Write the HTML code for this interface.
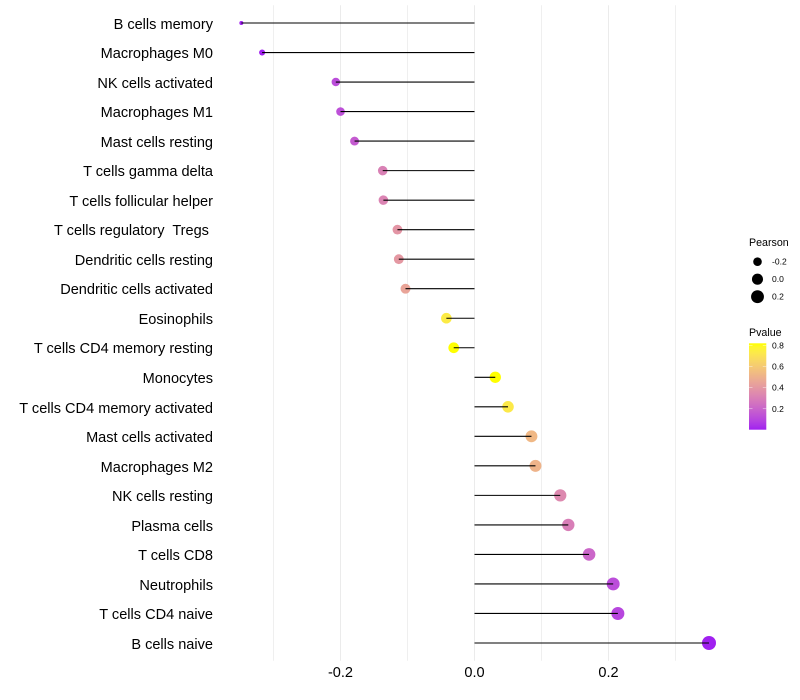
<!DOCTYPE html>
<html>
<head>
<meta charset="utf-8">
<style>
html,body{margin:0;padding:0;background:#fff}
svg{display:block}
text{font-family:"Liberation Sans",sans-serif;white-space:pre}
</style>
</head>
<body>
<svg id="chart" width="800" height="700" viewBox="0 0 800 700" xmlns="http://www.w3.org/2000/svg">
<defs><linearGradient id="pv-grad" x1="0" y1="1" x2="0" y2="0"></linearGradient></defs>
<rect x="0" y="0" width="800" height="700" fill="#ffffff"/>
<g id="grid"></g>
<g id="dots"></g>
<g id="stems-top"></g>
<g id="ylabels"></g>
<g id="xlabels"></g>
<g id="legend-size"></g>
<g id="legend-color"></g>
</svg>
<script>
const categories = ["B cells memory","Macrophages M0","NK cells activated","Macrophages M1","Mast cells resting","T cells gamma delta","T cells follicular helper","T cells regulatory  Tregs ","Dendritic cells resting","Dendritic cells activated","Eosinophils","T cells CD4 memory resting","Monocytes","T cells CD4 memory activated","Mast cells activated","Macrophages M2","NK cells resting","Plasma cells","T cells CD8","Neutrophils","T cells CD4 naive","B cells naive"];
const pearson = [-0.348,-0.317,-0.207,-0.200,-0.179,-0.137,-0.136,-0.115,-0.113,-0.103,-0.042,-0.031,0.031,0.050,0.085,0.091,0.128,0.140,0.171,0.207,0.214,0.350];
const pvalue = [0.003,0.006,0.12,0.13,0.17,0.31,0.32,0.39,0.40,0.45,0.74,0.82,0.82,0.73,0.53,0.51,0.34,0.30,0.21,0.12,0.10,0.002];
const majorTicks = [-0.2,0.0,0.2];
const minorTicks = [-0.3,-0.1,0.1,0.3];
const sizeLegendValues = [-0.2,0.0,0.2];
const colorLegendValues = [0.2,0.4,0.6,0.8];

const NS = "http://www.w3.org/2000/svg";
function xScale(v){ return 474.5 + v * 670; }
function yScale(i){ return 23 + i * (620 / (categories.length - 1)); }
const pMin = Math.min(...pvalue), pMax = Math.max(...pvalue);
const rMin = Math.min(...pearson), rMax = Math.max(...pearson);
function radius(v){
  const t = Math.max(0, Math.min(1, (v - rMin) / (rMax - rMin)));
  return 2 + 5 * Math.sqrt(t);
}
function toLab(c){
  const f = x => { x /= 255; return x > 0.04045 ? Math.pow((x + 0.055) / 1.055, 2.4) : x / 12.92; };
  const r = f(c[0]), g = f(c[1]), b = f(c[2]);
  const X = (0.4124*r + 0.3576*g + 0.1805*b) / 0.95047;
  const Y = 0.2126*r + 0.7152*g + 0.0722*b;
  const Z = (0.0193*r + 0.1192*g + 0.9505*b) / 1.08883;
  const h = t => t > 0.008856 ? Math.cbrt(t) : 7.787*t + 16/116;
  return [116*h(Y) - 16, 500*(h(X) - h(Y)), 200*(h(Y) - h(Z))];
}
function fromLab(l){
  const fy = (l[0] + 16) / 116, fx = l[1] / 500 + fy, fz = fy - l[2] / 200;
  const h = t => t*t*t > 0.008856 ? t*t*t : (t - 16/116) / 7.787;
  const X = h(fx)*0.95047, Y = h(fy), Z = h(fz)*1.08883;
  const g = x => { x = Math.max(0, Math.min(1, x)); return Math.round(255*(x > 0.0031308 ? 1.055*Math.pow(x, 1/2.4) - 0.055 : 12.92*x)); };
  return "rgb(" + g(3.2406*X - 1.5372*Y - 0.4986*Z) + "," + g(-0.9689*X + 1.8758*Y + 0.0415*Z) + "," + g(0.0557*X - 0.2040*Y + 1.0570*Z) + ")";
}
const labLow = toLab([160,32,240]), labHigh = toLab([255,255,0]);
function colorOf(t){
  return fromLab([0,1,2].map(k => labLow[k] + (labHigh[k] - labLow[k]) * t));
}
function colorScale(p){ return colorOf((p - pMin) / (pMax - pMin)); }
function mk(tag, attrs, parent, txt){
  const e = document.createElementNS(NS, tag);
  for (const k in attrs) e.setAttribute(k, attrs[k]);
  if (txt !== undefined) e.textContent = txt;
  parent.appendChild(e);
  return e;
}
const slug = s => s.trim().toLowerCase().replace(/[^a-z0-9]+/g, "-");
const panelTop = 5.3, panelBottom = 660.7;

const gridG = document.getElementById("grid");
minorTicks.forEach(v => {
  const l = mk("line", {x1:xScale(v), x2:xScale(v), y1:panelTop, y2:panelBottom, stroke:"#ebebeb", "stroke-width":0.8}, gridG);
  
  
});
majorTicks.forEach(v => {
  const l = mk("line", {x1:xScale(v), x2:xScale(v), y1:panelTop, y2:panelBottom, stroke:"#ebebeb", "stroke-width":1}, gridG);
  
  
});

const dotsG = document.getElementById("dots");
const topG = document.getElementById("stems-top");
const ylabG = document.getElementById("ylabels");
categories.forEach((c, i) => {
  const y = yScale(i);
  const d = mk("circle", {cx:xScale(pearson[i]), cy:y, r:radius(pearson[i]), fill:colorScale(pvalue[i])}, dotsG);
  
  
  const s = mk("line", {x1:xScale(0), x2:xScale(pearson[i]), y1:y, y2:y, stroke:"#000000", "stroke-width":1.1}, topG);
  
  
  const t = mk("text", {x:213, y:Math.floor(y + 6.2), "text-anchor":"end", "font-size":"14.55", fill:"#000000"}, ylabG, c);
  
  
});

const xlabG = document.getElementById("xlabels");
majorTicks.forEach(v => {
  const t = mk("text", {x:xScale(v), y:677, "text-anchor":"middle", "font-size":"14.55", fill:"#000000"}, xlabG, v.toFixed(1));
  
  
});

const lsG = document.getElementById("legend-size");
const lsTitle = mk("text", {x:749, y:246, "font-size":"10.67", fill:"#000000"}, lsG, "Pearson");


sizeLegendValues.forEach((v, i) => {
  const y = 261.7 + i * 17.5;
  const c = mk("circle", {cx:757.5, cy:y, r:radius(v), fill:"#000000"}, lsG);
  
  
  const t = mk("text", {x:772, y:y + 3, "font-size":"8.53", fill:"#000000"}, lsG, v.toFixed(1));
  
  
});

const grad = document.getElementById("pv-grad");
for (let k = 0; k <= 20; k++) {
  mk("stop", {offset:(k / 20), "stop-color":colorOf(k / 20)}, grad);
}
const lcG = document.getElementById("legend-color");
const lcTitle = mk("text", {x:749, y:336, "font-size":"10.67", fill:"#000000"}, lcG, "Pvalue");


const barTop = 343.3, barBottom = 429.7;
const bar = mk("rect", {x:749, y:barTop, width:17.3, height:barBottom - barTop, fill:"url(#pv-grad)"}, lcG);


function barY(p){ return barBottom - (p - pMin) / (pMax - pMin) * (barBottom - barTop); }
colorLegendValues.forEach(v => {
  const y = barY(v);
  [[749, 752.5], [762.8, 766.3]].forEach(seg => {
    const l = mk("line", {x1:seg[0], x2:seg[1], y1:y, y2:y, stroke:"#ffffff", "stroke-width":0.5, "stroke-opacity":0.8}, lcG);
    
    
  });
  const t = mk("text", {x:772, y:y + 3, "font-size":"8.53", fill:"#000000"}, lcG, v.toFixed(1));
  
  
});
</script>
</body>
</html>
